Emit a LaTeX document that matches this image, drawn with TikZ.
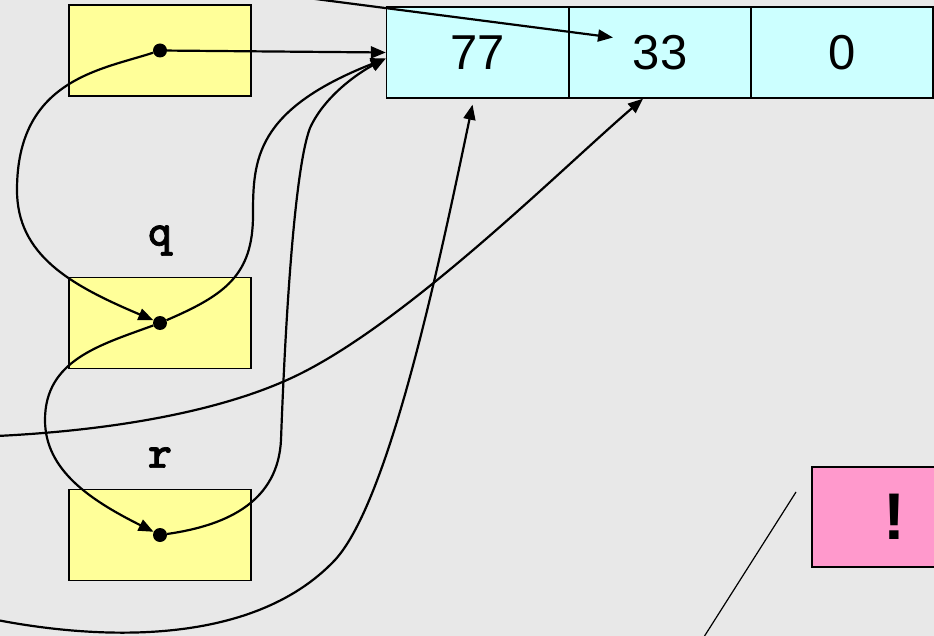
\documentclass[tikz,border=0pt]{standalone}
\usepackage{fontspec}
\setmainfont{Liberation Sans}
\newfontfamily\codefont{lmmonolt10-bold.otf}[FakeBold=1.5]
\usetikzlibrary{arrows.meta}

\definecolor{granite}{HTML}{E8E8E8}
\definecolor{ptrfill}{HTML}{FFFF99}
\definecolor{slotfill}{HTML}{CCFFFF}
\definecolor{alertfill}{HTML}{FF99CC}

\begin{document}
\begin{tikzpicture}[x=1pt,y=-1pt,
    pointer/.style ={rectangle, draw, line width=1.4pt, fill=ptrfill, inner sep=0pt, minimum width=182pt, minimum height=91pt},
    slot/.style ={rectangle, draw, line width=1.4pt, fill=slotfill, inner sep=0pt, minimum width=182pt, minimum height=91pt, font=\fontsize{49}{49}\selectfont},
    varname/.style ={inner sep=2pt, font=\codefont\fontsize{46}{46}\selectfont},
    ptrdot/.style ={circle, fill, inner sep=0pt, minimum size=14pt},
    pointsto/.style ={line width=2.2pt, -{Triangle[length=15pt,width=12pt]}}]
   \useasboundingbox (0,0) rectangle (934,636);
   \clip (0,0) rectangle (934,636);
   \fill[granite] (0,0) rectangle (934,636);
   \node[pointer] (pbox) at (160,50.5) {};
   \node[pointer] (qbox) [label={[varname,label distance=19pt]90:q}] at (160,323) {};
   \node[pointer] (rbox) [label={[varname,label distance=19pt]90:r}] at (160,535) {};
   \node[slot] (c77) at (477.5,52.5) {77};
   \node[slot] (c33) at (660,52.5) {33};
   \node[slot] (c0)  at (842,52.5) {0};
   \node[rectangle, draw, line width=1.4pt, fill=alertfill, minimum width=164pt, minimum height=100pt,
         font=\bfseries\fontsize{66}{66}\selectfont] (bang) at (894,517) {!};
   \node[ptrdot] (pd) at (pbox.center) {};
   \node[ptrdot] (qd) at (qbox.center) {};
   \node[ptrdot] (rd) at (rbox.center) {};
   \coordinate (ein) at (-3,436);
   \coordinate (gin) at (-3,620);
   \coordinate (hin) at (300,-3);
   \coordinate (sa) at (796,492);
   \coordinate (sb) at (702,640);
   % pointers into the array
   \draw[pointsto] (pd) -- (c77.west);
   \draw[pointsto] (qd) .. controls (225,295) and (253,275) .. (253,215)
        .. controls (253,160) and (255,110) .. ([yshift=-6pt]c77.west);
   \draw[pointsto] (rd) .. controls (230,525) and (278,500) .. (281,440)
        .. controls (285,330) and (294,170) .. (310,128)
        .. controls (325,95) and (360,72) .. ([yshift=-6pt]c77.west);
   \draw[pointsto] (gin) .. controls (90,638) and (250,650) .. (335,560)
        .. controls (390,500) and (440,260) .. ([shift={(-5,6)}]c77.south);
   \draw[pointsto] (ein) .. controls (120,430) and (220,410) .. (287,380)
        .. controls (400,330) and (560,170) .. ([xshift=-17pt]c33.south);
   \draw[pointsto] (hin) -- ([shift={(-47,-15)}]c33.center);
   % pointers between the variables
   \draw[pointsto] (pd) .. controls (100,70) and (17,80) .. (17,190)
        .. controls (17,255) and (70,285) .. (qd);
   \draw[pointsto] (qd) .. controls (100,345) and (45,360) .. (45,420)
        .. controls (45,470) and (90,500) .. (rd);
   \draw[line width=1.2pt] (sa) -- (sb);
\end{tikzpicture}
\end{document}
